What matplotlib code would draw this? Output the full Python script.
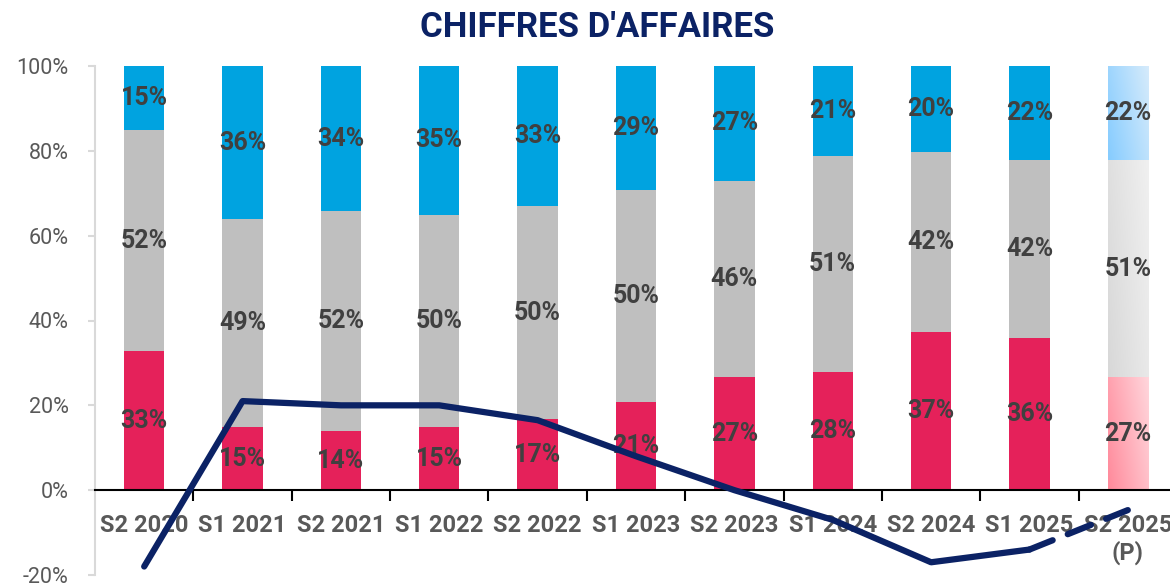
import numpy as np
import matplotlib
matplotlib.use('Agg')
import matplotlib.pyplot as plt
from matplotlib.colors import LinearSegmentedColormap

plt.rcParams['font.family'] = ['Roboto', 'DejaVu Sans']

categories = ['S2 2020', 'S1 2021', 'S2 2021', 'S1 2022', 'S2 2022', 'S1 2023',
              'S2 2023', 'S1 2024', 'S2 2024', 'S1 2025', 'S2 2025\n(P)']
pink = [32.8, 14.9, 13.9, 14.9, 16.7, 20.8, 26.7, 27.8, 37.3, 35.8, 26.7]
gray = [52.1, 49.0, 51.9, 50.0, 50.3, 50.0, 46.2, 51.0, 42.4, 42.0, 51.1]
blue = [15.1, 36.1, 34.2, 35.1, 33.0, 29.2, 27.1, 21.2, 20.3, 22.2, 22.2]
growth = [-18, 21, 20, 20, 16.5, 8, 0, -7, -17, -14, -4.7]

c_pink, c_gray, c_blue = '#E5215A', '#BFBFBF', '#00A3E0'
navy = '#0B2265'
# gradients for the forecast bar
grad = [('#FF8A9B', '#FFD6DC'), ('#D8D8D8', '#F0F0F0'), ('#86CCFF', '#D6EBFB')]

fig = plt.figure(figsize=(11.7, 5.83), dpi=100)
ax = fig.add_axes([95/1170, 8/583, 1082/1170, 509/583])

x = np.arange(len(categories))
w = 0.41
n = len(x)
series = [pink, gray, blue]
cols = [c_pink, c_gray, c_blue]
bottom = np.zeros(n)
for vals, col, g in zip(series, cols, grad):
    vals = np.array(vals)
    fc = [col] * (n - 1) + ['none']
    bars = ax.bar(x, vals, w, bottom=bottom, color=fc, zorder=2)
    # gradient fill on last bar
    b = bars[-1]
    cmap = LinearSegmentedColormap.from_list('g', list(g))
    gx, gy = np.meshgrid(np.linspace(0, 1, 50), np.linspace(0, 1, 50))
    z = (gx * 0.7 + gy * 0.3)
    im = ax.imshow(z, cmap=cmap, extent=[x[-1] - w/2, x[-1] + w/2, bottom[-1] + vals[-1], bottom[-1]],
                   aspect='auto', zorder=2, origin='upper')
    im.set_clip_path(b)
    for i in range(n):
        ax.text(x[i], bottom[i] + vals[i] / 2, f'{round(vals[i])}%', ha='center', va='center',
                fontsize=18, fontweight='bold', color='#404040', zorder=3)
    bottom += vals

ax.plot(x[:-1], growth[:-1], color=navy, lw=4.5, solid_capstyle='round', solid_joinstyle='round', zorder=5)
ax.plot(x[-2:], growth[-2:], color=navy, lw=4.5, dashes=(4, 2.6), dash_capstyle='round', zorder=5)

ax.set_xlim(-0.5, n - 0.5)
ax.set_ylim(-20, 100)
ax.set_yticks([-20, 0, 20, 40, 60, 80, 100])
ax.set_yticklabels([f'{v}%' for v in [-20, 0, 20, 40, 60, 80, 100]])
ax.tick_params(axis='y', colors='#D9D9D9', labelcolor='#595959', labelsize=15.5, length=5, width=1.5, pad=14)

ax.spines['bottom'].set_position(('data', 0))
ax.spines['bottom'].set_color('black')
ax.spines['bottom'].set_linewidth(1.5)
ax.spines['left'].set_color('#D9D9D9')
ax.spines['left'].set_linewidth(1.5)
ax.spines['top'].set_visible(False)
ax.spines['right'].set_visible(False)

ax.set_xticks(x)
ax.set_xticklabels(categories, fontsize=17, fontweight='bold', color='#595959', linespacing=1.2)
ax.set_xticks(np.arange(0.5, n - 0.5, 1), minor=True)
ax.tick_params(axis='x', which='major', length=0, pad=17)
ax.tick_params(axis='x', which='minor', length=8, width=1.5, color='black')

fig.text(0.51, 0.952, "CHIFFRES D'AFFAIRES", ha='center', va='center', fontsize=25,
         fontweight='bold', color=navy)

fig.savefig('out.png', dpi=100)
